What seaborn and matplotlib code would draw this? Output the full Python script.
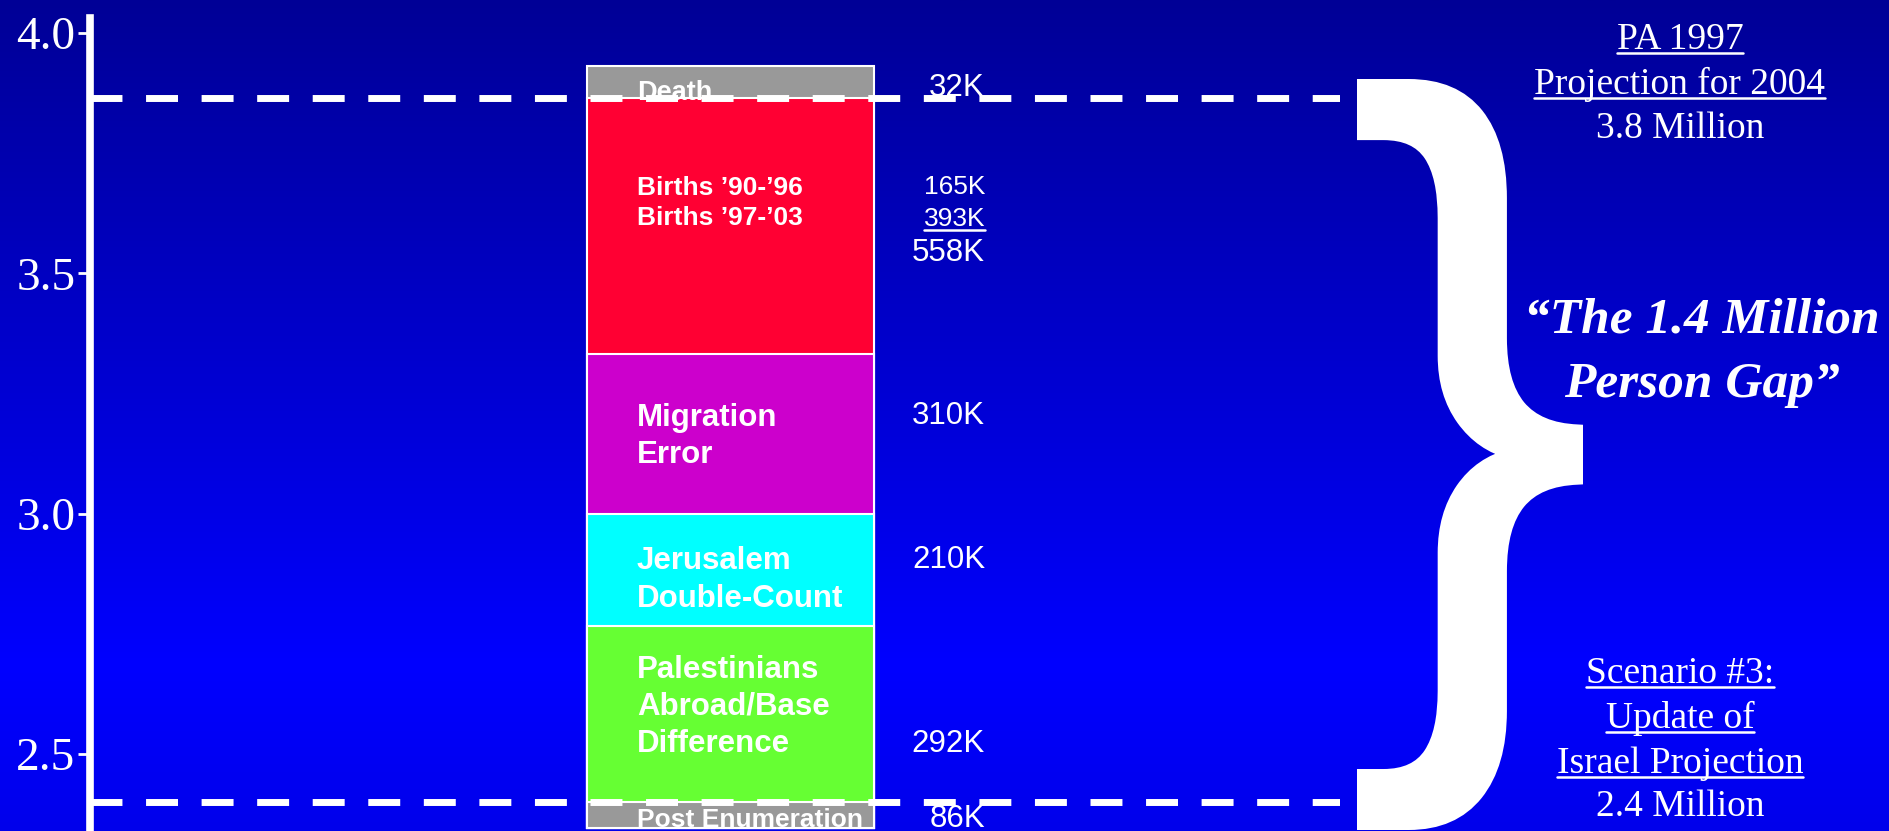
import numpy as np
import pandas as pd
import matplotlib
matplotlib.use("Agg")
import matplotlib.pyplot as plt
import seaborn as sns
from matplotlib.textpath import TextPath
from matplotlib.patches import PathPatch
from matplotlib.font_manager import FontProperties
from matplotlib.transforms import Affine2D
from matplotlib.lines import Line2D

# gap components, bottom to top (millions of persons, as drawn on the slide)
segment_names = ["Post Enumeration", "Palestinians\nAbroad/Base\nDifference",
                 "Jerusalem\nDouble-Count", "Migration\nError",
                 "Births \u201990-\u201996\nBirths \u201997-\u201903", "Death"]
segment_heights = [0.055, 0.366, 0.233, 0.332, 0.532, 0.068]
segment_colors = ["#999999", "#66FF33", "#00FFFF", "#CC00CC", "#FF0033", "#999999"]
bar_base = 2.346

# the K-figures printed next to the bar
value_labels = ["86K", "292K", "210K", "310K", "558K", "393K", "165K", "32K"]

# PA projection (top) and Israel projection (bottom), millions
projection_levels = [3.865, 2.40]

yticks = [2.5, 3.0, 3.5, 4.0]
ytick_labels = ["2.5", "3.0", "3.5", "4.0"]

top_note = ["PA 1997", "Projection for 2004", "3.8 Million"]
bottom_note = ["Scenario #3:", "Update of", "Israel Projection", "2.4 Million"]
gap_title = ["\u201cThe 1.4 Million", "Person Gap\u201d"]

SANS = "Liberation Sans"
SERIF = "Liberation Serif"
W, H = 1890, 831

sns.set_style("white")
plt.rcParams["font.family"] = [SANS, "DejaVu Sans"]

fig = plt.figure(figsize=(W / 100, H / 100), dpi=100)

# blue slide background
bg = fig.add_axes([0, 0, 1, 1], zorder=-5)
bg.axis("off")
t = np.linspace(0, 1, 400)
img = np.zeros((400, 1, 3))
img[:, 0, 2] = np.interp(t, [0, 0.8, 1.0], [150 / 255, 1.0, 235 / 255])
bg.imshow(img, aspect="auto", extent=[0, 1, 0, 1])

ax = fig.add_axes([90 / W, 0, 1250 / W, 1 - 18 / H], zorder=1)
ax.patch.set_alpha(0)

df = pd.DataFrame({"segment": segment_names, "height": segment_heights, "color": segment_colors})
df["top"] = bar_base + df["height"].cumsum()

# stacked bar: overlapping bars, tallest first
for i, row in enumerate(df.iloc[::-1].itertuples()):
    sns.barplot(x=["gap"], y=[row.top - bar_base], bottom=bar_base, color=row.color,
                saturation=1, width=1, edgecolor="white", linewidth=1.5,
                zorder=2 + i, ax=ax)

ax.set_xlim(-2.232, 2.124)
ax.set_ylim(2.340, 4.031)

for lvl in projection_levels:
    ax.axhline(lvl, color="white", lw=5, dashes=(4.6, 3.4), zorder=15)

ax.set_xticks([])
ax.set_xlabel("")
ax.set_ylabel("")
ax.set_yticks(yticks)
ax.set_yticklabels(ytick_labels, fontfamily=SERIF, fontsize=34, color="white")
ax.tick_params(axis="y", left=True, colors="white", width=2, length=8.6,
               direction="out", pad=2)
for s in ["top", "right", "bottom"]:
    ax.spines[s].set_visible(False)
ax.spines["left"].set_color("white")
ax.spines["left"].set_linewidth(5.5)

# labels inside the bar
lx = -0.326
seg_label_y = [2.348, 2.598, 2.862, 3.161, 3.647, 3.874]
seg_label_va = ["baseline", "center", "center", "center", "center", "center"]
seg_label_size = [19, 22.5, 22.5, 22.5, 19, 19.5]
for name, y, va, fs in zip(segment_names, seg_label_y, seg_label_va, seg_label_size):
    z = 3 if name == "Death" else 20
    ax.text(lx, y, name, color="white", fontweight="bold", fontsize=fs, ha="left",
            va=va, linespacing=1.32, zorder=z)

# numbers to the right
vx = 0.887
val_y = [2.348, 2.521, 2.904, 3.203, 3.542, 3.598, 3.680, 3.886]
val_va = ["baseline", "center", "center", "center", "center", "baseline", "center", "center"]
val_size = [22.5, 22.5, 22.5, 22.5, 22.5, 19, 19, 22.5]
val_texts = []
for lab, y, va, fs in zip(value_labels, val_y, val_va, val_size):
    val_texts.append(ax.text(vx, y, lab, color="white", fontsize=fs, ha="right", va=va, zorder=20))

# big brace spanning the gap (glyph outline, stroked a bit to get the heavier weight)
tp = TextPath((0, 0), "}", size=100, prop=FontProperties(family=SANS))
ext = tp.get_extents()
grow = 5.5
bx0, bx1, by_top, by_bot = 1357 + grow, 1583 - grow, 79 + grow, 830 - grow
aff = (Affine2D().translate(-ext.x0, -ext.y0)
       .scale((bx1 - bx0) / ext.width / W, (by_bot - by_top) / ext.height / H)
       .translate(bx0 / W, 1 - by_bot / H))
fig.add_artist(PathPatch(tp, transform=aff + fig.transFigure, facecolor="white",
                         edgecolor="white", linewidth=2 * grow * 72 / 100,
                         joinstyle="miter"))

# side notes (serif, as on the slide)
def note(x, y, s, **kw):
    return fig.text(x / W, 1 - y / H, s, ha="center", va="baseline", color="white",
                    fontfamily=SERIF, **kw)

under = []
for s, y, u in zip(top_note, [49, 94, 138], [True, True, False]):
    tx = note(1680, y, s, fontsize=27)
    if u:
        under.append(tx)
for s, y, u in zip(bottom_note, [683, 728, 773, 816], [True, True, True, False]):
    tx = note(1680, y, s, fontsize=27)
    if u:
        under.append(tx)
for s, y in zip(gap_title, [333, 397]):
    note(1702, y, s, fontsize=37, fontweight="bold", fontstyle="italic")

under.append(val_texts[value_labels.index("393K")])

fig.canvas.draw()
rend = fig.canvas.get_renderer()
for tx in under:
    bb = tx.get_window_extent(rend)
    _, yb = tx.get_transform().transform(tx.get_position())
    yl = (yb - 4) / H
    fig.add_artist(Line2D([bb.x0 / W, bb.x1 / W], [yl, yl], transform=fig.transFigure,
                          color="white", lw=1.8))

fig.savefig("out.png", dpi=100)
